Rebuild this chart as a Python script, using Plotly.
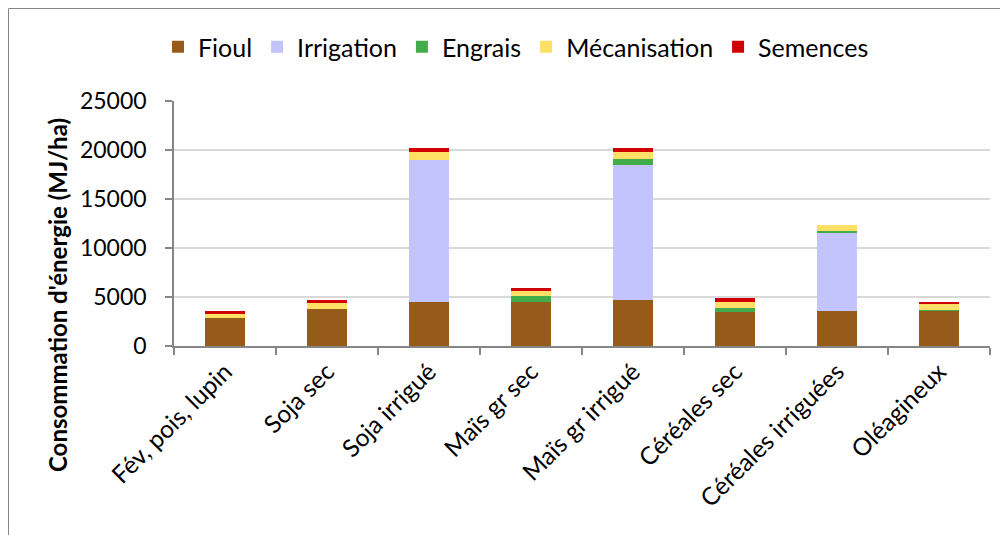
import plotly.graph_objects as go

categories = ["Fév, pois, lupin", "Soja sec", "Soja irrigué", "Maïs gr sec",
              "Maïs gr irrigué", "Céréales sec", "Céréales irriguées", "Oléagineux"]
fioul = [2860, 3740, 4530, 4490, 4730, 3505, 3540, 3610]
irrigation = [0, 0, 14460, 0, 13710, 0, 8000, 0]
engrais = [0, 0, 0, 580, 610, 375, 170, 100]
mecanisation = [475, 650, 780, 510, 780, 650, 610, 650]
semences = [200, 340, 480, 300, 375, 375, 0, 100]

series = [
    ("Fioul", fioul, "#975B19"),
    ("Irrigation", irrigation, "#C3C3FD"),
    ("Engrais", engrais, "#43AC4A"),
    ("Mécanisation", mecanisation, "#FFE066"),
    ("Semences", semences, "#D00000"),
]

FONT = "Lato, Open Sans, sans-serif"

fig = go.Figure()
for name, vals, col in series:
    fig.add_trace(go.Bar(x=categories, y=vals, name=name,
                         marker=dict(color=col, line=dict(width=0))))

# page places the figure at an 8px offset (body margin)
OFF = 8
W, H = 1000, 527
L, R, T, B = 174 - OFF, 18, 101 - OFF, 189
pw, ph = W - L - R, H - T - B


def px_x(x):
    return (x - OFF - L) / pw


def px_y(y):
    return (H - B - (y - OFF)) / ph


fig.update_layout(
    width=W, height=H,
    barmode="stack", bargap=0.6,
    plot_bgcolor="white", paper_bgcolor="white",
    margin=dict(l=L, r=R, t=T, b=B, autoexpand=False),
    font=dict(family=FONT, size=23, color="black"),
    legend=dict(orientation="h", x=px_x(516), xanchor="center", y=px_y(47), yanchor="middle",
                font=dict(size=25), traceorder="normal"),
    showlegend=True,
)
fig.update_yaxes(range=[0, 25000], dtick=5000, tickformat="d",
                 showgrid=True, gridcolor="#D9D9D9", gridwidth=2,
                 showline=True, linecolor="#868686", linewidth=1.5,
                 ticks="outside", ticklen=7, tickcolor="#868686", tickwidth=1.5,
                 ticklabelstandoff=14,
                 zeroline=False, tickfont=dict(size=23))
fig.update_xaxes(showline=True, linecolor="#868686", linewidth=1.5,
                 ticks="outside", tickson="boundaries", ticklen=7,
                 tickcolor="#868686", tickwidth=1.5,
                 tickangle=-45, tickfont=dict(size=24.5))

fig.add_annotation(text="<b>Consommation d'énergie (MJ/ha)</b>", textangle=-90,
                   xref="paper", yref="paper", x=px_x(57), y=px_y(295),
                   showarrow=False, font=dict(size=24, family=FONT),
                   xanchor="center", yanchor="middle")

fig.add_shape(type="rect", xref="paper", yref="paper",
              x0=px_x(8.5), x1=px_x(1030), y0=px_y(8.5), y1=px_y(560),
              line=dict(color="#868686", width=1), layer="below")

fig.write_html("out.html")
